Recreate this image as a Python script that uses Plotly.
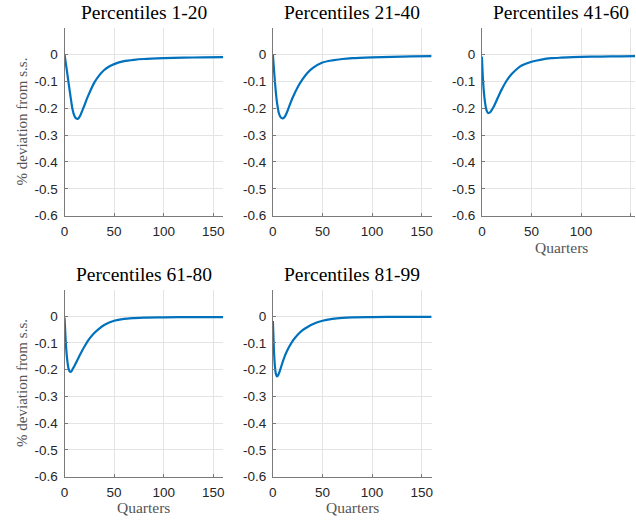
import plotly.graph_objects as go

# ---------------- data ----------------
titles = ["Percentiles 1-20", "Percentiles 21-40", "Percentiles 41-60",
          "Percentiles 61-80", "Percentiles 81-99"]

x_p1 = [0, 2, 4, 6, 8, 10, 12, 13, 14, 16, 18, 20, 22, 25, 30, 35, 40, 45, 50, 60, 70, 80, 100, 120, 140, 160]
y_p1 = [0.0, -0.05, -0.104, -0.155, -0.203, -0.229, -0.239, -0.240, -0.238, -0.226, -0.208, -0.19,
        -0.17, -0.144, -0.105, -0.078, -0.058, -0.045, -0.036, -0.025, -0.02, -0.017, -0.014, -0.012,
        -0.011, -0.01]

x_p2 = [0, 1, 2, 3, 4, 6, 8, 10, 12, 14, 16, 18, 20, 25, 30, 35, 40, 50, 60, 70, 80, 100, 120, 140, 160]
y_p2 = [0.0, -0.05, -0.098, -0.14, -0.175, -0.218, -0.235, -0.238, -0.232, -0.217, -0.198, -0.178,
        -0.16, -0.122, -0.092, -0.068, -0.051, -0.03, -0.022, -0.017, -0.014, -0.011, -0.009, -0.007,
        -0.006]

x_p3 = [0, 1, 2, 3, 4, 5, 6, 7, 8, 10, 12, 14, 16, 18, 20, 25, 30, 35, 40, 50, 60, 70, 80, 100, 120, 140, 160]
y_p3 = [-0.008, -0.09, -0.14, -0.175, -0.198, -0.211, -0.217, -0.218, -0.216, -0.206, -0.194, -0.178,
        -0.161, -0.145, -0.13, -0.097, -0.073, -0.055, -0.041, -0.027, -0.019, -0.014, -0.012, -0.009,
        -0.008, -0.007, -0.006]

x_p4 = [0, 1, 2, 3, 4, 5, 6, 7, 8, 10, 12, 14, 16, 18, 20, 25, 30, 35, 40, 50, 60, 70, 80, 100, 130, 160]
y_p4 = [-0.005, -0.08, -0.135, -0.172, -0.195, -0.205, -0.208, -0.206, -0.199, -0.186, -0.171, -0.156,
        -0.141, -0.127, -0.114, -0.085, -0.063, -0.046, -0.033, -0.017, -0.01, -0.007, -0.005, -0.004,
        -0.003, -0.003]

x_p5 = [0, 1, 2, 3, 4, 5, 6, 8, 10, 12, 14, 16, 20, 25, 30, 35, 40, 50, 60, 70, 80, 100, 130, 160]
y_p5 = [-0.018, -0.12, -0.185, -0.215, -0.225, -0.223, -0.215, -0.193, -0.17, -0.149, -0.132, -0.117,
        -0.092, -0.069, -0.052, -0.04, -0.03, -0.017, -0.01, -0.006, -0.004, -0.003, -0.002, -0.002]

series_x = [x_p1, x_p2, x_p3, x_p4, x_p5]
series_y = [y_p1, y_p2, y_p3, y_p4, y_p5]

x_ticks = [0, 50, 100, 150]
y_ticks = [0, -0.1, -0.2, -0.3, -0.4, -0.5, -0.6]
y_tick_labels = ["0", "-0.1", "-0.2", "-0.3", "-0.4", "-0.5", "-0.6"]
y_label = "% deviation from s.s."
x_label = "Quarters"

# ---------------- layout helpers ----------------
W, H = 636, 525
def px(x):
    return x / W
def py(y):
    return 1 - y / H

# plot boxes in pixels: (left, right, top, bottom)
boxes = [
    (61, 221, 28, 219),
    (271, 431, 28, 219),
    (481.7, 636, 28, 219),
    (61, 221, 294, 484),
    (271, 431, 294, 484),
]
xranges = [[0, 160], [0, 160], [0, 154.3], [0, 160], [0, 160]]

LINE_COLOR = "#0072BD"
AX_COLOR = "#7a7a7a"
GRID_COLOR = "#e4e4e4"
TICK_FONT = dict(family="Liberation Sans, Arial, sans-serif", size=13.5, color="#262626")
SERIF = "Liberation Serif, Times New Roman, serif"

fig = go.Figure()
layout = dict(
    width=W, height=H,
    margin=dict(l=0, r=0, t=0, b=0),
    paper_bgcolor="white", plot_bgcolor="white",
    showlegend=False,
)
annotations = []

for i in range(5):
    n = "" if i == 0 else str(i + 1)
    l, r, t, b = boxes[i]
    fig.add_trace(go.Scatter(
        x=series_x[i], y=series_y[i], mode="lines",
        line=dict(color=LINE_COLOR, width=2.2, shape="spline", smoothing=0.7),
        xaxis="x" + n, yaxis="y" + n, hoverinfo="skip",
    ))
    layout["xaxis" + n] = dict(
        domain=[px(l), px(r)], anchor="y" + n, range=xranges[i],
        tickvals=x_ticks, ticktext=[str(v) for v in x_ticks],
        showgrid=True, gridcolor=GRID_COLOR, gridwidth=1,
        zeroline=False, showline=True, linecolor=AX_COLOR, linewidth=1,
        ticks="inside", ticklen=3, tickcolor=AX_COLOR,
        tickfont=TICK_FONT, fixedrange=True, ticklabelstandoff=3,
    )
    layout["yaxis" + n] = dict(
        domain=[py(b), py(t)], anchor="x" + n, range=[-0.6, 0.1],
        tickvals=y_ticks, ticktext=y_tick_labels,
        showgrid=True, gridcolor=GRID_COLOR, gridwidth=1,
        zeroline=False, showline=True, linecolor=AX_COLOR, linewidth=1,
        ticks="inside", ticklen=3, tickcolor=AX_COLOR,
        tickfont=TICK_FONT, fixedrange=True, ticklabelstandoff=3,
    )
    cx = (l + (l + 160)) / 2
    title_y = 13 if i < 3 else 279
    annotations.append(dict(
        text=titles[i], x=px(cx), y=py(title_y), xref="paper", yref="paper",
        xanchor="center", yanchor="middle", showarrow=False,
        font=dict(family=SERIF, size=19.5, color="#000000"),
    ))

# y labels (subplots 1 and 4)
for (l, r, t, b) in [boxes[0], boxes[3]]:
    annotations.append(dict(
        text=y_label, x=px(18), y=py((t + b) / 2), xref="paper", yref="paper",
        xanchor="center", yanchor="middle", textangle=-90, showarrow=False,
        font=dict(family=SERIF, size=15, color="#555555"),
    ))

# x labels (subplots 3, 4, 5)
for i, yy in [(2, 251), (3, 515.5), (4, 515.5)]:
    l, r, t, b = boxes[i]
    annotations.append(dict(
        text=x_label, x=px(l + 80), y=py(yy), xref="paper", yref="paper",
        xanchor="center", yanchor="middle", showarrow=False,
        font=dict(family=SERIF, size=15.5, color="#555555"),
    ))

layout["annotations"] = annotations
fig.update_layout(**layout)
fig.write_html(
    "out.html",
    config={"displayModeBar": False, "staticPlot": True},
    post_script=(
        "document.documentElement.style.margin='0px';"
        "document.body.style.margin='0px';"
        "document.body.style.padding='0px';"
        "document.documentElement.style.overflow='hidden';"
        "document.body.style.overflow='hidden';"
        "var d=document.getElementById('{plot_id}');"
        "d.style.position='fixed';d.style.top='0px';d.style.left='0px';"
    ),
)
